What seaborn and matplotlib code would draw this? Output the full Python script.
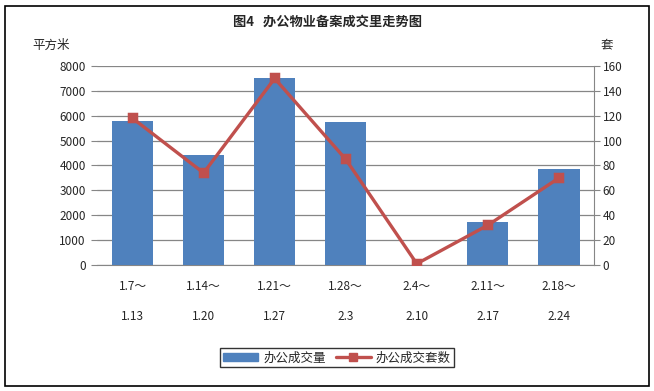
import pandas as pd
import seaborn as sns
import matplotlib.pyplot as plt
from matplotlib.patches import Rectangle
from matplotlib.lines import Line2D

# weekly periods (two-line labels) and values
periods = ['1.7～\n\n1.13', '1.14～\n\n1.20', '1.21～\n\n1.27', '1.28～\n\n2.3',
           '2.4～\n\n2.10', '2.11～\n\n2.17', '2.18～\n\n2.24']
area = [5790, 4420, 7520, 5740, 0, 1730, 3860]   # 办公成交量 (平方米)
units = [118, 74, 150, 85, 1, 32, 70]            # 办公成交套数 (套)

bar_color = '#4F81BD'
line_color = '#C0504D'
grid_color = '#868686'

data = pd.DataFrame({'周': periods, '办公成交量': area, '办公成交套数': units})

sns.set_style('white')
plt.rcParams['font.family'] = ['Noto Sans CJK SC', 'DejaVu Sans']

fig = plt.figure(figsize=(6.54, 3.91), dpi=100)
ax = fig.add_axes([0.1483, 0.3223, 0.7607, 0.5089])

sns.barplot(data=data, x='周', y='办公成交量', color=bar_color, width=0.58,
            saturation=1, linewidth=0, ax=ax, zorder=3)
ax.set_ylim(0, 8000)
ax.set_yticks(range(0, 8001, 1000))
ax.yaxis.grid(True, color=grid_color, linewidth=0.9)
ax.set_axisbelow(True)
ax.set_xlabel('')
ax.set_ylabel('')
for side in ['left', 'top', 'right']:
    ax.spines[side].set_visible(False)
ax.spines['bottom'].set_color(grid_color)
ax.tick_params(axis='y', left=True, length=4, color=grid_color, labelsize=8.5, pad=4)
ax.tick_params(axis='x', bottom=False, labelsize=8.5, pad=7)

ax2 = ax.twinx()
sns.pointplot(data=data, x='周', y='办公成交套数', color=line_color, markers='s',
              markersize=6, linewidth=2.4, ax=ax2)
ax2.set_ylim(0, 160)
ax2.set_yticks(range(0, 161, 20))
ax2.set_ylabel('')
ax2.set_xlabel('')
ax.set_xlim(-0.5, 6.5)
ax2.set_xlim(-0.5, 6.5)
for side in ['left', 'top', 'bottom']:
    ax2.spines[side].set_visible(False)
ax2.spines['right'].set_color(grid_color)
ax2.tick_params(axis='y', right=True, length=4, color=grid_color, labelsize=8.5, pad=2)

fig.text(0.5015, 0.944, '图4   办公物业备案成交里走势图', ha='center', va='center',
         fontsize=9.5, fontweight='bold')
fig.text(0.05, 0.885, '平方米', ha='left', va='center', fontsize=9)
fig.text(0.928, 0.885, '套', ha='center', va='center', fontsize=9)

handles = [Rectangle((0, 0), 1, 1, color=bar_color),
           Line2D([0], [0], color=line_color, linewidth=2.4, marker='s', markersize=6)]
fig.legend(handles, ['办公成交量', '办公成交套数'], loc='center', ncol=2,
           bbox_to_anchor=(0.515, 0.085), fontsize=9, frameon=True, fancybox=False,
           edgecolor='black', handlelength=2.8, columnspacing=0.8, handletextpad=0.4,
           borderpad=0.25)

fig.patches.append(Rectangle((0.008, 0.013), 0.984, 0.972, transform=fig.transFigure,
                             fill=False, edgecolor='black', linewidth=1.2))

fig.savefig('out.png', dpi=100)
